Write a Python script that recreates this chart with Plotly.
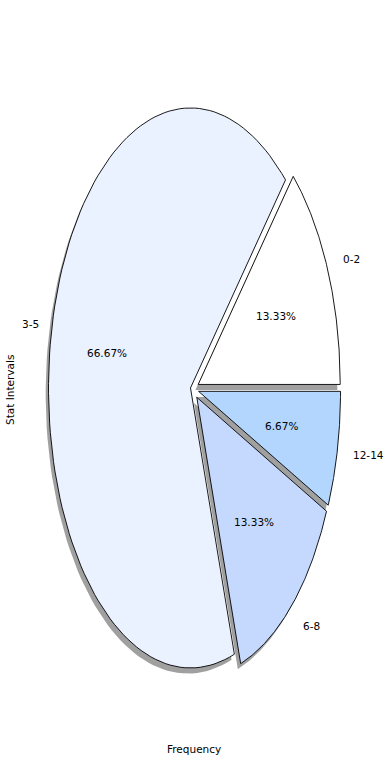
import numpy as np
import plotly.graph_objects as go

categories = ["0-2", "3-5", "6-8", "12-14"]
counts = [2, 10, 2, 1]
explode = [0.04, 0.018, 0.04, 0.04]
colors = ["#FFFFFF", "#EAF1FF", "#C5D9FF", "#B3D6FF"]
shadow_color = "#A0A0A0"

total = sum(counts)
fracs = [c / total for c in counts]

fig = go.Figure()
wedges = []
theta = 0.0
for frac, ex in zip(fracs, explode):
    t1 = theta + 360 * frac
    mid = np.deg2rad((theta + t1) / 2)
    ox, oy = ex * np.cos(mid), ex * np.sin(mid)
    angs = np.deg2rad(np.linspace(theta, t1, 120))
    xs = np.concatenate([[ox], ox + np.cos(angs), [ox]])
    ys = np.concatenate([[oy], oy + np.sin(angs), [oy]])
    wedges.append((xs, ys, mid, ox, oy, frac))
    theta = t1

# shadows
for xs, ys, *_ in wedges:
    fig.add_trace(go.Scatter(x=xs - 0.02, y=ys - 0.02, mode="lines", fill="toself",
                             fillcolor=shadow_color, line=dict(width=0),
                             hoverinfo="skip", showlegend=False))
# wedges
for (xs, ys, *_), col in zip(wedges, colors):
    fig.add_trace(go.Scatter(x=xs, y=ys, mode="lines", fill="toself",
                             fillcolor=col, line=dict(color="black", width=0.9),
                             hoverinfo="skip", showlegend=False))

annotations = []
for (xs, ys, mid, ox, oy, frac), cat in zip(wedges, categories):
    lx = ox + 1.1 * np.cos(mid)
    ly = oy + 1.1 * np.sin(mid)
    annotations.append(dict(x=lx, y=ly, text=cat, showarrow=False,
                            xanchor="left" if lx > 0 else "right", yanchor="middle",
                            xshift=0 if lx > 0 else 3,
                            font=dict(size=10.5, color="black")))
    px = ox + 0.6 * np.cos(mid)
    py = oy + 0.6 * np.sin(mid)
    annotations.append(dict(x=px, y=py, text=f"{frac*100:.2f}%", showarrow=False,
                            xanchor="center", yanchor="middle",
                            font=dict(size=10.5, color="black")))

annotations.append(dict(x=194 / 390, y=1 - 749 / 780, xref="paper", yref="paper",
                        text="Frequency", showarrow=False, xanchor="center", yanchor="middle",
                        font=dict(size=10.5, color="black")))
annotations.append(dict(x=10 / 390, y=1 - 390 / 780, xref="paper", yref="paper",
                        text="Stat Intervals", textangle=-90, showarrow=False,
                        xanchor="center", yanchor="middle",
                        font=dict(size=10.5, color="black")))

fig.update_layout(
    width=390, height=780,
    margin=dict(l=0, r=0, t=0, b=0),
    paper_bgcolor="white", plot_bgcolor="white",
    font=dict(family="DejaVu Sans"),
    xaxis=dict(range=[-193 / 142, 197 / 142], visible=False, fixedrange=True),
    yaxis=dict(range=[(389 - 780) / 280, 389 / 280], visible=False, fixedrange=True),
    annotations=annotations,
    showlegend=False,
)

fig.write_html(
    "out.html",
    config={"displayModeBar": False},
    post_script="document.documentElement.style.margin='0';document.body.style.margin='0';document.body.style.padding='0';",
)
